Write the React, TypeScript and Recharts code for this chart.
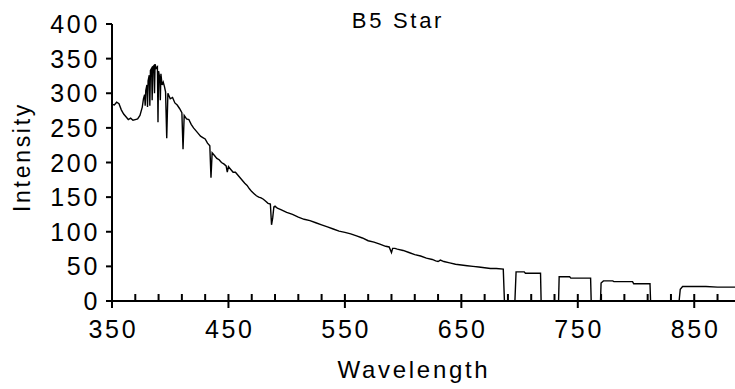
import { LineChart, Line, XAxis, YAxis } from 'recharts';

// B5 star spectrum
const wavelengths = [
  350, 352, 354, 356, 358, 360, 362, 364, 366, 368, 370, 372, 374, 376, 377, 378, 378.5, 379, 380, 380.5,
  381, 382, 382.5, 383, 384, 384.5, 385, 386, 386.5, 387, 388, 389, 389.5, 390, 391, 391.5, 392, 393,
  394, 395, 396, 397, 398, 399, 400, 402,
  404, 406, 408, 410, 411, 412, 414, 416, 418, 420, 422, 424, 426, 428, 430, 432, 434, 435, 436, 438,
  440, 442, 444, 446, 448, 449, 450, 452, 454, 456, 458, 460, 462, 464, 466, 468, 470, 472, 474, 476,
  478, 480, 482, 484, 486, 487, 488, 489, 490, 492, 495, 500, 505, 510, 515, 520, 525, 530, 535, 540,
  545, 550, 555, 560, 565, 570, 575, 580, 585, 588, 590, 591, 593, 595, 600, 605, 610, 615, 620, 625,
  628, 630, 632, 635, 640, 645, 650, 655, 660, 665, 670, 675, 680, 686, 687, 696, 697, 704, 705, 718,
  718.5, 733.5, 734, 743, 744, 761, 761.5, 769.5, 770, 772, 780, 781, 797, 798, 812, 812.5, 837, 838, 840, 850,
  860, 870, 880, 885,
];
const intensities = [
  284, 283, 287, 285, 276, 270, 266, 262, 264, 261, 262, 263, 268, 280, 292, 298, 282, 304, 312, 280,
  318, 326, 282, 333, 336, 290, 338, 340, 300, 342, 336, 338, 258, 332, 322, 290, 328, 312,
  316, 310, 302, 235, 300, 296, 292, 294,
  286, 283, 278, 272, 219, 268, 263, 262, 255, 250, 246, 242, 238, 236, 234, 228, 224, 178, 214, 210,
  206, 204, 200, 198, 195, 186, 194, 190, 186, 186, 182, 178, 174, 170, 167, 162, 158, 155, 152, 150,
  149, 147, 144, 141, 140, 110, 120, 136, 137, 134, 132, 128, 125, 121, 118, 116, 113, 110, 107, 104,
  101, 99, 97, 94, 91, 87, 85, 82, 79, 78, 70, 76, 76, 75, 73, 70, 67, 65, 62, 60,
  58, 57, 59, 57, 55, 53, 52, 51, 50, 49, 48, 47, 47, 46, 0, 0, 42, 42, 40, 40,
  0, 0, 35, 35, 33, 33, 0, 0, 26, 29, 29, 28, 28, 25, 25, 0, 0, 17, 21, 21,
  21, 20, 20, 20,
];

const xTicks = [
  350, 370, 390, 410, 430, 450, 470, 490, 510, 530, 550, 570, 590, 610, 630, 650, 670, 690, 710, 730,
  750, 770, 790, 810, 830, 850, 870,
];
const yTicks = [0, 50, 100, 150, 200, 250, 300, 350, 400];

const data = wavelengths.map((w, i) => ({ w, v: intensities[i] }));

const FONT = '"Liberation Sans", Arial, Helvetica, sans-serif';
const SPACING = 2.7;

function XTick(props: any) {
  const { x, y, payload } = props;
  const v = payload.value;
  const major = (v - 350) % 100 === 0;
  return (
    <g>
      <line x1={x} x2={x} y1={y - 7} y2={major ? y + 7 : y} stroke="#000" strokeWidth={2} />
      {major && (
        <text x={x + SPACING / 2} y={y + 37} textAnchor="middle" fontFamily={FONT} fontSize={25}
          letterSpacing={SPACING} fill="#000">
          {v}
        </text>
      )}
    </g>
  );
}

function YTick(props: any) {
  const { x, y, payload } = props;
  return (
    <text x={x} y={y + 9} textAnchor="end" fontFamily={FONT} fontSize={25} letterSpacing={SPACING} fill="#000">
      {payload.value}
    </text>
  );
}

export default function App() {
  return (
    <div style={{ position: 'absolute', left: 0, top: 0, width: 735, height: 389, background: '#fff' }}>
      <LineChart width={735} height={389} data={data} margin={{ top: 24, right: 0, bottom: 0, left: 0 }}>
        <XAxis
          dataKey="w"
          type="number"
          domain={[350, 885]}
          allowDataOverflow
          ticks={xTicks}
          interval={0}
          height={88}
          tickSize={0}
          tickMargin={0}
          tickLine={false}
          tick={<XTick />}
          axisLine={{ stroke: '#000', strokeWidth: 2 }}
        />
        <YAxis
          type="number"
          domain={[0, 400]}
          ticks={yTicks}
          interval={0}
          width={112}
          tickSize={6}
          tickMargin={6}
          tickLine={{ stroke: '#000', strokeWidth: 2 }}
          tick={<YTick />}
          axisLine={{ stroke: '#000', strokeWidth: 2 }}
        />
        <Line dataKey="v" type="linear" stroke="#000" strokeWidth={1.4} dot={false} isAnimationActive={false} />
      </LineChart>
      <svg width={735} height={389} style={{ position: 'absolute', left: 0, top: 0, pointerEvents: 'none' }}>
        <text x={398} y={28} textAnchor="middle" fontFamily={FONT} fontSize={22} letterSpacing={SPACING} fill="#000">
          B5 Star
        </text>
        <text x={414} y={378} textAnchor="middle" fontFamily={FONT} fontSize={24} letterSpacing={SPACING} fill="#000">
          Wavelength
        </text>
        <text x={30} y={157} transform="rotate(-90 30 157)" textAnchor="middle" fontFamily={FONT} fontSize={23}
          letterSpacing={SPACING} fill="#000">
          Intensity
        </text>
      </svg>
    </div>
  );
}
